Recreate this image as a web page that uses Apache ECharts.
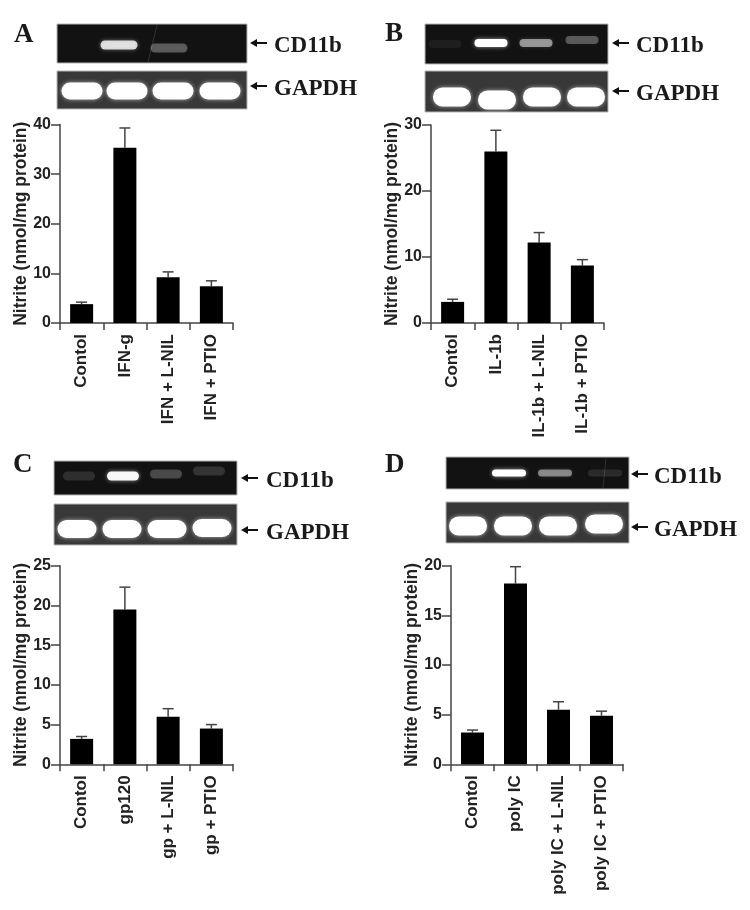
<!DOCTYPE html>
<html>
<head>
<meta charset="utf-8">
<script src="https://cdn.jsdelivr.net/npm/echarts@6/dist/echarts.min.js"></script>
<style>
html, body { margin: 0; padding: 0; background: #fff; }
#main { width: 750px; height: 910px; filter: blur(0.5px); }
</style>
</head>
<body>
<div id="main"></div>
<script>
// bar values and the top of each error bar
var catsA = ['Contol', 'IFN-g', 'IFN + L-NIL', 'IFN + PTIO'];
var meanA = [3.8, 35.3, 9.2, 7.4];
var topA = [4.2, 39.3, 10.3, 8.5];

var catsB = ['Contol', 'IL-1b', 'IL-1b + L-NIL', 'IL-1b + PTIO'];
var meanB = [3.2, 26, 12.2, 8.7];
var topB = [3.6, 29.2, 13.7, 9.6];

var catsC = ['Contol', 'gp120', 'gp + L-NIL', 'gp + PTIO'];
var meanC = [3.2, 19.5, 6, 4.5];
var topC = [3.5, 22.3, 7, 5];

var catsD = ['Contol', 'poly IC', 'poly IC + L-NIL', 'poly IC + PTIO'];
var meanD = [3.2, 18.2, 5.5, 4.9];
var topD = [3.45, 19.9, 6.3, 5.35];

// gel band brightness, 0..1
var cd11bA = [0, 0.8, 0.28, 0];
var cd11bB = [0.05, 1, 0.5, 0.28];
var cd11bC = [0.12, 0.95, 0.22, 0.14];
var cd11bD = [0, 1, 0.45, 0.1];
var gapdhAll = [1, 1, 1, 1];

var yName = 'Nitrite (nmol/mg protein)';
var sansFont = '"Liberation Sans", Arial, sans-serif';
var serifFont = '"Liberation Serif", "Times New Roman", serif';
var inkColor = '#222';
var axisColor = '#444';

var panels = [
  { letter: 'A', letterX: 14, letterY: 35, cats: catsA, mean: meanA, top: topA, max: 40, step: 10,
    grid: { left: 60, top: 124.5, width: 173, height: 198.5 },
    gelX: 57, gelW: 190, arrowX: 250, textX: 274,
    cd: { y: 24, h: 39, data: cd11bA, xs: [75, 119, 169, 215], ys: [45, 45, 48, 45], w: 37, bh: 9, textY: 46, scratch: [157, 148] },
    gapdh: { y: 71, h: 38, data: gapdhAll, xs: [82, 127, 173, 220], ys: [91, 91, 91, 91], w: 41, bh: 17, textY: 89 } },
  { letter: 'B', letterX: 385, letterY: 34, cats: catsB, mean: meanB, top: topB, max: 30, step: 10,
    grid: { left: 431, top: 125, width: 173, height: 198 },
    gelX: 425, gelW: 183, arrowX: 612, textX: 636,
    cd: { y: 24, h: 40, data: cd11bB, xs: [445, 491, 536, 582], ys: [44, 43, 43, 40], w: 33, bh: 8, textY: 46 },
    gapdh: { y: 71, h: 41, data: gapdhAll, xs: [452, 497, 542, 586], ys: [97, 100, 97, 97], w: 38, bh: 19, textY: 94 } },
  { letter: 'C', letterX: 13, letterY: 465, cats: catsC, mean: meanC, top: topC, max: 25, step: 5,
    grid: { left: 60, top: 565.7, width: 173, height: 198.6 },
    gelX: 54, gelW: 183, arrowX: 241, textX: 266,
    cd: { y: 461, h: 34, data: cd11bC, xs: [79, 123, 166, 209], ys: [476, 476, 474, 471], w: 32, bh: 9, textY: 481 },
    gapdh: { y: 504, h: 41, data: gapdhAll, xs: [77, 122, 167, 212], ys: [529, 529, 529, 528], w: 39, bh: 18, textY: 533 } },
  { letter: 'D', letterX: 385, letterY: 465, cats: catsD, mean: meanD, top: topD, max: 20, step: 5,
    grid: { left: 451, top: 565.7, width: 172, height: 198.6 },
    gelX: 446, gelW: 183, arrowX: 631, textX: 654,
    cd: { y: 457, h: 32, data: cd11bD, xs: [463, 509, 555, 605], ys: [473, 473, 473, 473], w: 34, bh: 7, textY: 477, scratch: [606, 603] },
    gapdh: { y: 502, h: 41, data: gapdhAll, xs: [468, 513, 558, 604], ys: [526, 526, 526, 524], w: 38, bh: 19, textY: 530 } }
];

// one gel strip with its glowing bands, arrow and label
function gelStrip(p, strip, name, bg) {
  var items = [{
    type: 'rect',
    shape: { x: p.gelX, y: strip.y, width: p.gelW, height: strip.h },
    style: { fill: bg, stroke: '#b5b5b5', lineWidth: 1 }
  }];
  strip.data.forEach(function (v, i) {
    if (v <= 0) return;
    items.push({
      type: 'rect',
      shape: { x: strip.xs[i] - strip.w / 2, y: strip.ys[i] - strip.bh / 2, width: strip.w, height: strip.bh, r: strip.bh / 2 },
      style: { fill: 'rgba(255,255,255,' + v + ')', shadowBlur: 4, shadowColor: 'rgba(255,255,255,' + v * 0.6 + ')' }
    });
  });
  if (strip.scratch) {
    items.push({
      type: 'line',
      shape: { x1: strip.scratch[0], y1: strip.y + 1, x2: strip.scratch[1], y2: strip.y + strip.h - 1 },
      style: { stroke: 'rgba(255,255,255,0.12)', lineWidth: 1 }
    });
  }
  var ay = strip.textY - 3;
  items.push({
    type: 'line',
    shape: { x1: p.arrowX + 5, y1: ay, x2: p.arrowX + 17, y2: ay },
    style: { stroke: '#111', lineWidth: 2 }
  });
  items.push({
    type: 'polygon',
    shape: { points: [[p.arrowX, ay], [p.arrowX + 7, ay - 4], [p.arrowX + 7, ay + 4]] },
    style: { fill: '#111' }
  });
  items.push({
    type: 'text', x: p.textX, y: strip.textY,
    style: { text: name, fontFamily: serifFont, fontWeight: 'bold', fontSize: 23, fill: '#1a1a1a', verticalAlign: 'middle' }
  });
  return items;
}

var grids = [], xAxes = [], yAxes = [], series = [], graphics = [];

panels.forEach(function (p, idx) {
  grids.push(p.grid);
  xAxes.push({
    type: 'category', gridIndex: idx, data: p.cats,
    axisLine: { lineStyle: { color: axisColor, width: 1.5 } },
    axisTick: { show: true, length: 7, lineStyle: { color: axisColor, width: 1.5 } },
    axisLabel: { interval: 0, rotate: 90, margin: 11, color: inkColor, fontFamily: sansFont, fontWeight: 'bold', fontSize: 17 }
  });
  yAxes.push({
    type: 'value', gridIndex: idx, min: 0, max: p.max, interval: p.step,
    name: yName, nameLocation: 'middle', nameRotate: 90, nameGap: 30, nameMoveOverlap: false,
    nameTextStyle: { color: inkColor, fontFamily: sansFont, fontWeight: 'bold', fontSize: 17.5 },
    splitLine: { show: false },
    axisLine: { show: true, onZero: false, lineStyle: { color: axisColor, width: 1.5 } },
    axisTick: { show: true, length: 9, lineStyle: { color: axisColor, width: 1.5 } },
    axisLabel: { margin: 9, color: inkColor, fontFamily: sansFont, fontWeight: 'bold', fontSize: 16 }
  });
  series.push({
    type: 'bar', xAxisIndex: idx, yAxisIndex: idx, data: p.mean, barWidth: 23,
    itemStyle: { color: '#000' }, silent: true
  });
  series.push({
    type: 'custom', xAxisIndex: idx, yAxisIndex: idx, silent: true,
    data: p.mean.map(function (m, i) { return [i, m, p.top[i]]; }),
    encode: { x: 0, y: [1, 2] },
    renderItem: function (params, api) {
      var low = api.coord([api.value(0), api.value(1)]);
      var high = api.coord([api.value(0), api.value(2)]);
      var st = { stroke: axisColor, lineWidth: 1.5, fill: 'none' };
      return {
        type: 'group',
        children: [
          { type: 'line', shape: { x1: low[0], y1: low[1], x2: high[0], y2: high[1] }, style: st },
          { type: 'line', shape: { x1: high[0] - 5.5, y1: high[1], x2: high[0] + 5.5, y2: high[1] }, style: st }
        ]
      };
    }
  });
  graphics.push({
    type: 'text', x: p.letterX, y: p.letterY,
    style: { text: p.letter, fontFamily: serifFont, fontWeight: 'bold', fontSize: 27, fill: '#1a1a1a', verticalAlign: 'middle' }
  });
  graphics = graphics.concat(gelStrip(p, p.cd, 'CD11b', '#121212'), gelStrip(p, p.gapdh, 'GAPDH', '#383838'));
});

var chart = echarts.init(document.getElementById('main'));
chart.setOption({
  animation: false,
  backgroundColor: '#fff',
  tooltip: { show: false },
  grid: grids,
  xAxis: xAxes,
  yAxis: yAxes,
  series: series,
  graphic: { elements: graphics }
});
window.addEventListener('resize', function () {
  chart && chart.resize();
});
</script>
</body>
</html>
